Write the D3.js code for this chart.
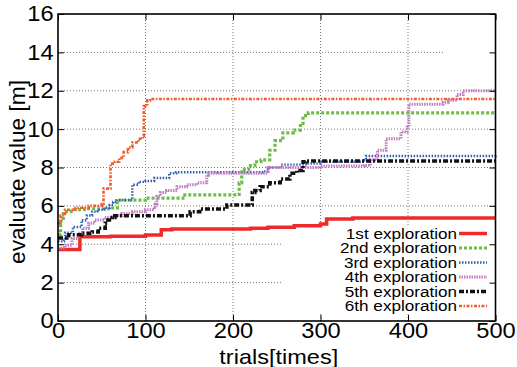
<!DOCTYPE html>
<html>
<head>
<meta charset="utf-8">
<script src="https://cdn.jsdelivr.net/npm/d3@7"></script>
<style>
  body { margin: 0; background: #fff; }
  text { font-family: "Liberation Sans", Arial, Helvetica, sans-serif; fill: #000; }
</style>
</head>
<body>
<svg id="chart" width="517" height="367"></svg>
<script>
'use strict';

// Data: [trial, evaluate value]
var exploration1 = [[0,3.73],[25,4.39],[60,4.42],[100,4.48],[118,4.75],[130,4.8],[220,4.83],[240,4.88],[270,4.97],[300,5.05],[307,5.32],[337,5.37],[500,5.37]];
var exploration2 = [[0,4.5],[3,5.2],[6,5.7],[15,5.8],[30,5.85],[60,5.9],[68,6.3],[100,6.4],[145,6.57],[205,6.6],[207,7.2],[210,7.9],[218,8.1],[225,8.3],[232,8.4],[242,8.9],[248,9.4],[257,9.8],[269,9.95],[277,10.3],[280,10.7],[286,10.85],[500,10.85]];
var exploration3 = [[0,4.15],[7,4.2],[8,4.6],[17,4.9],[27,5.25],[33,5.5],[39,5.7],[45,5.8],[53,5.9],[59,6.05],[63,6.2],[67,6.3],[85,7.1],[92,7.25],[100,7.3],[110,7.45],[127,7.7],[135,7.75],[235,7.8],[240,8.0],[255,8.15],[285,8.2],[300,8.3],[350,8.38],[352,8.6],[500,8.63]];
var exploration4 = [[0,3.8],[8,3.95],[16,4.3],[23,4.57],[28,4.84],[35,5.1],[42,5.26],[53,5.4],[62,5.5],[73,5.6],[85,5.7],[100,5.8],[110,5.9],[111,6.1],[113,6.5],[117,6.7],[124,6.8],[136,7.0],[147,7.1],[159,7.2],[170,7.6],[172,7.7],[230,7.7],[240,8.0],[300,8.08],[350,8.1],[357,8.4],[365,8.9],[375,9.5],[392,9.85],[399,10.1],[401,11.3],[440,11.4],[446,11.5],[456,11.8],[463,12.0],[500,12.02]];
var exploration5 = [[0,4.33],[10,4.35],[12,4.5],[27,4.57],[39,4.64],[46,4.84],[54,5.1],[57,5.26],[62,5.4],[65,5.48],[147,5.48],[151,5.7],[162,5.84],[185,5.84],[193,6.04],[220,6.04],[222,6.7],[225,6.8],[231,7.0],[242,7.2],[254,7.4],[265,7.7],[273,7.85],[280,8.3],[283,8.34],[500,8.34]];
var exploration6 = [[0,5.1],[3,5.5],[8,5.8],[20,5.9],[35,6.0],[50,6.1],[52,6.9],[59,6.9],[60,8.2],[65,8.3],[70,8.5],[75,8.8],[80,9.05],[85,9.3],[92,9.5],[97,9.65],[98,11.2],[102,11.5],[105,11.57],[500,11.57]];

var seriesNames = ['1st exploration', '2nd exploration', '3rd exploration', '4th exploration', '5th exploration', '6th exploration'];
var xTicks = [0, 100, 200, 300, 400, 500];
var yTicks = [0, 2, 4, 6, 8, 10, 12, 14, 16];

var styles = [
  { color: '#ee2a2a', width: 3.5, dash: null },
  { color: '#6cbd45', width: 3.2, dash: '3,2' },
  { color: '#2f5fb5', width: 2.4, dash: '1.5,1.5' },
  { color: '#c27fc2', width: 3, dash: '1.5,1' },
  { color: '#111111', width: 3.5, dash: '5,2,2,2' },
  { color: '#f25c2c', width: 2.6, dash: '3,1.5,1.5,1.5' }
];

var W = 517, H = 367;
var m = { top: 14, right: 21.5, bottom: 46, left: 58 };
var svg = d3.select('#chart');

var x = d3.scaleLinear().domain([0, 500]).range([m.left, W - m.right]);
var y = d3.scaleLinear().domain([0, 16]).range([H - m.bottom, m.top]);

// grid
var grid = svg.append('g').attr('stroke', '#777').attr('stroke-width', 1).attr('stroke-dasharray', '1,2');
grid.selectAll('line.gx').data(xTicks.slice(1, -1)).enter().append('line')
  .attr('x1', function(d) { return x(d); }).attr('x2', function(d) { return x(d); })
  .attr('y1', y(0)).attr('y2', y(16));
grid.selectAll('line.gy').data(yTicks.slice(1, -1)).enter().append('line')
  .attr('x1', x(0)).attr('x2', function(d) { return d === 14 ? x(440) : x(500); })
  .attr('y1', function(d) { return y(d); }).attr('y2', function(d) { return y(d); });

// key background (opaque in the original)
var keyX = 283, keyY = 226;
svg.append('rect').attr('x', keyX).attr('y', keyY).attr('width', x(500) - keyX - 1).attr('height', 87).attr('fill', '#fff');

// lines
var line = d3.line().x(function(d) { return x(d[0]); }).y(function(d) { return y(d[1]); }).curve(d3.curveStepAfter);
var allSeries = [exploration1, exploration2, exploration3, exploration4, exploration5, exploration6];

svg.append('g').selectAll('path').data(allSeries).enter().append('path')
  .attr('d', line)
  .attr('fill', 'none')
  .attr('stroke', function(d, i) { return styles[i].color; })
  .attr('stroke-width', function(d, i) { return styles[i].width; })
  .attr('stroke-dasharray', function(d, i) { return styles[i].dash; });

// axes with inward (mirrored) ticks
function styleAxis(g, fs) {
  g.select('.domain').remove();
  g.selectAll('.tick line').attr('stroke', '#000').attr('stroke-width', 1);
  g.selectAll('.tick text').attr('font-size', fs).attr('fill', '#000').attr('transform', 'scale(1.1,1)');
}
svg.append('g').attr('transform', 'translate(0,' + y(0) + ')')
  .call(d3.axisBottom(x).tickValues(xTicks).tickSizeInner(-6).tickPadding(2).tickFormat(d3.format('d')))
  .call(function(g) { styleAxis(g, 21.5); g.selectAll('.tick text').attr('dy', '0.72em'); });
svg.append('g').attr('transform', 'translate(0,' + y(16) + ')')
  .call(d3.axisTop(x).tickValues(xTicks).tickSizeInner(-6).tickFormat(''))
  .call(function(g) { styleAxis(g, 0); });
svg.append('g').attr('transform', 'translate(' + x(0) + ',0)')
  .call(d3.axisLeft(y).tickValues(yTicks).tickSizeInner(-6).tickPadding(4).tickFormat(d3.format('d')))
  .call(function(g) { styleAxis(g, 21.5); });
svg.append('g').attr('transform', 'translate(' + x(500) + ',0)')
  .call(d3.axisRight(y).tickValues(yTicks).tickSizeInner(-6).tickFormat(''))
  .call(function(g) { styleAxis(g, 0); });

// frame
svg.append('rect').attr('x', x(0)).attr('y', y(16)).attr('width', x(500) - x(0)).attr('height', y(0) - y(16))
  .attr('fill', 'none').attr('stroke', '#000').attr('stroke-width', 1.6);

// legend
var key = svg.append('g').selectAll('g').data(seriesNames).enter().append('g')
  .attr('transform', function(d, i) { return 'translate(0,' + (233.5 + i * 14.5) + ')'; });
key.append('text').attr('transform', 'translate(457,0) scale(1.18,1)').attr('dy', '0.35em')
  .attr('text-anchor', 'end').attr('font-size', 14.5)
  .text(function(d) { return d; });
key.append('line').attr('x1', 459).attr('x2', 487).attr('y1', 0).attr('y2', 0)
  .attr('stroke', function(d, i) { return styles[i].color; })
  .attr('stroke-width', function(d, i) { return styles[i].width; })
  .attr('stroke-dasharray', function(d, i) { return styles[i].dash; });

// axis titles
svg.append('text').attr('transform', 'translate(' + ((x(0) + x(500)) / 2 + 2) + ',363.5) scale(1.12,1)')
  .attr('text-anchor', 'middle').attr('font-size', 21).text('trials[times]');
svg.append('text').attr('transform', 'translate(25,172) rotate(-90) scale(1.03,1)')
  .attr('text-anchor', 'middle').attr('font-size', 22).text('evaluate value [m]');
</script>
</body>
</html>
